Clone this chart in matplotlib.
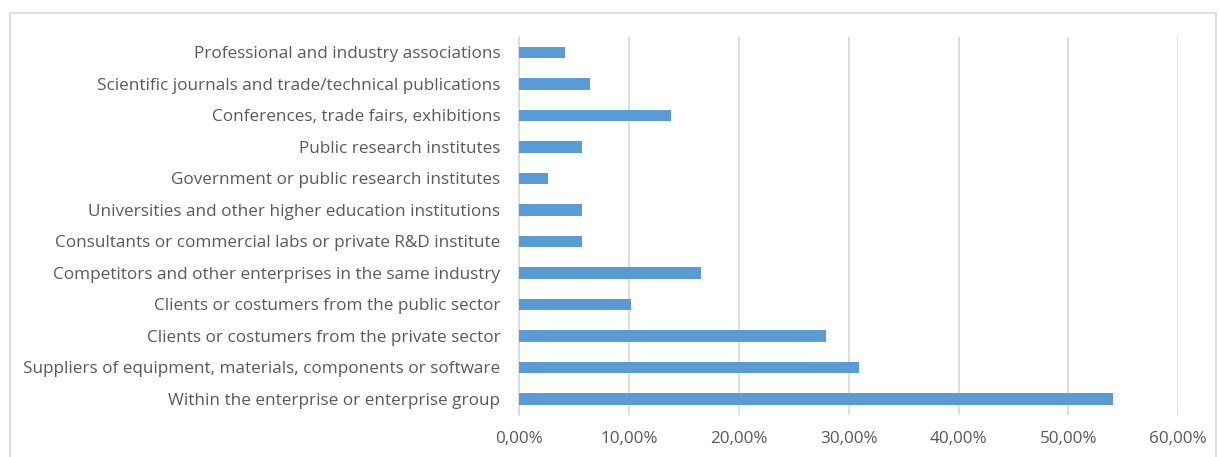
import matplotlib
matplotlib.use("Agg")
import matplotlib.pyplot as plt
from matplotlib.patches import Rectangle
from matplotlib.ticker import FuncFormatter, MultipleLocator

categories = [
    "Within the enterprise or enterprise group",
    "Suppliers of equipment, materials, components or software",
    "Clients or costumers from the private sector",
    "Clients or costumers from the public sector",
    "Competitors and other enterprises in the same industry",
    "Consultants or commercial labs or private R&D institute",
    "Universities and other higher education institutions",
    "Government or public research institutes",
    "Public research institutes",
    "Conferences, trade fairs, exhibitions",
    "Scientific journals and trade/technical publications",
    "Professional and industry associations",
]
values = [54.1, 30.9, 27.9, 10.2, 16.5, 5.7, 5.7, 2.6, 5.7, 13.8, 6.4, 4.2]

plt.rcParams['font.family'] = ['Open Sans', 'DejaVu Sans']

W, H = 1219, 457
fig = plt.figure(figsize=(W / 100, H / 100), dpi=100)
fig.patches.append(Rectangle((10 / W, -0.1), (1216 - 10) / W, 1 - 13 / H + 0.1,
                             transform=fig.transFigure, fill=False,
                             edgecolor="#d9d9d9", linewidth=1.2))

ax = fig.add_axes([519.3 / W, 1 - 414.6 / H, (1178.3 - 519.3) / W, (414.6 - 36.6) / H])
y = range(len(categories))
ax.barh(list(y), values, height=0.36, color="#5b9bd5", zorder=3)
ax.set_yticks(list(y))
ax.set_yticklabels(categories, fontsize=12.3, color="#595959")
ax.set_ylim(-0.5, len(categories) - 0.5)
ax.set_xlim(0, 60)
ax.xaxis.set_major_locator(MultipleLocator(10))
ax.xaxis.set_major_formatter(FuncFormatter(lambda v, p: f"{v:.2f}".replace(".", ",") + "%"))
ax.tick_params(axis="x", labelsize=12.3, labelcolor="#595959", length=0, pad=12)
ax.tick_params(axis="y", length=0, pad=13.7)
ax.grid(axis="x", color="#d9d9d9", linewidth=1.2, zorder=0)
for s in ["top", "right", "bottom"]:
    ax.spines[s].set_visible(False)
ax.spines["left"].set_color("#d9d9d9")
ax.spines["left"].set_linewidth(1.2)
fig.savefig("out.png", dpi=100)
